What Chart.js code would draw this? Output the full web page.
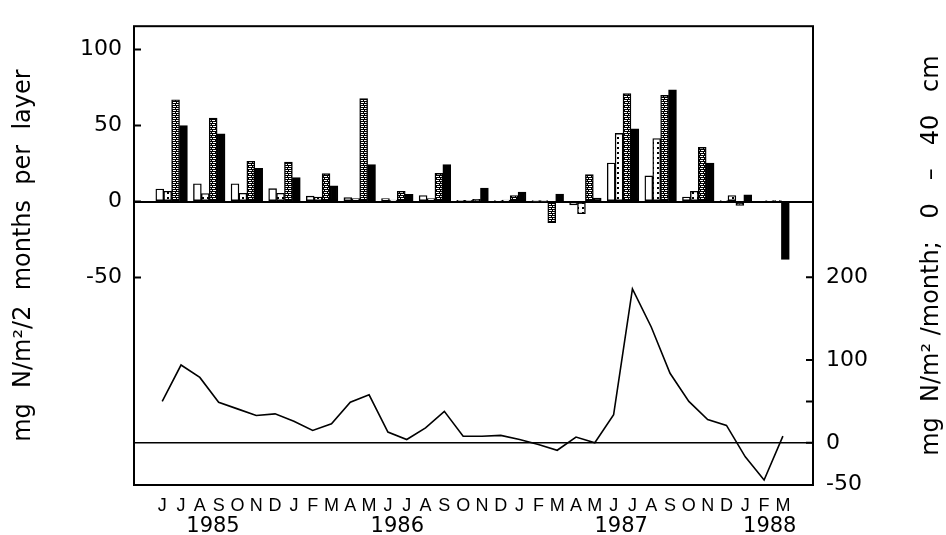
<!DOCTYPE html>
<html>
<head>
<meta charset="utf-8">
<script src="https://cdn.jsdelivr.net/npm/chart.js@4.4.0/dist/chart.umd.min.js"></script>
<style>
  html, body { margin: 0; padding: 0; background: #fff; }
  #wrap { width: 946px; height: 535px; }
</style>
</head>
<body>
<div id="wrap"><canvas id="chart" width="946" height="535"></canvas></div>
<script>
// month axis, June 1985 .. March 1988
const months = ['J','J','A','S','O','N','D','J','F','M','A','M','J','J','A','S','O','N','D',
                'J','F','M','A','M','J','J','A','S','O','N','D','J','F','M'];
const years = ['1985', '1986', '1987', '1988'];
const yearPos = [2.7, 12.5, 24.4, 32.3];   // month index under which each year sits

// two-month periods (bars)
const periods = ['Jun-Jul 85','Aug-Sep 85','Oct-Nov 85','Dec-Jan 86','Feb-Mar 86','Apr-May 86',
                 'Jun-Jul 86','Aug-Sep 86','Oct-Nov 86','Dec-Jan 87','Feb-Mar 87','Apr-May 87',
                 'Jun-Jul 87','Aug-Sep 87','Oct-Nov 87','Dec-Jan 88','Feb-Mar 88'];
const layerOpen   = [8.3, 11.7, 11.7, 8.5, 3.6, 2.6, 1.9, 4, 0.8, 0.6, 0.3, -2.2, 25.4, 16.9, 3, 0.6, 0];
const layerDotted = [6.8, 5.3, 5.5, 5.5, 3, 1.9, 1, 1.9, 0.8, 1, 0.3, -8, 44.9, 41.5, 6.8, 4, 0.6];
const layerHatch  = [67, 55, 26.5, 26, 18.4, 67.7, 6.8, 18.6, 1.5, 4, -13.8, 17.8, 71, 69.9, 35.7, -2.5, 0.6];
const layerBlack  = [50, 44.6, 21.8, 15.8, 10.3, 24.4, 4.7, 24.4, 8.8, 6.2, 5, 2.3, 47.9, 73.5, 25.4, 4.5, -38];

// monthly total, 0 - 40 cm (right axis)
const monthly = [50, 94, 79, 49, 41, 33, 35, 26, 15, 23, 49, 58, 13, 4, 18, 38, 8,
                 8, 9, 4, -2, -9, 7, 0, 34, 186, 140, 84, 50, 28, 21, -17, -45, 8];

const leftTicks = [-50, 0, 50, 100];
const rightTicks = [-50, 0, 100, 200];
const rightMarks = [0, 50, 100, 200];

function makePattern(kind) {
  const c = document.createElement('canvas');
  const g = c.getContext('2d');
  if (kind === 'dots') {
    c.width = 5; c.height = 5;
    g.fillStyle = '#fff'; g.fillRect(0, 0, 5, 5);
    g.fillStyle = '#000'; g.fillRect(2, 2, 2, 2);
  } else {
    c.width = 4; c.height = 4;
    g.fillStyle = '#000'; g.fillRect(0, 0, 4, 4);
    g.fillStyle = '#fff'; g.fillRect(0, 0, 3, 1); g.fillRect(1, 2, 3, 1);
  }
  return g.createPattern(c, 'repeat');
}

const FONT = "'DejaVu Sans', sans-serif";
const xMin = -1.5, xMax = 34.6;
const layerStep = 0.42;   // width of one layer bar, in months

const frameAndTicks = {
  id: 'frameAndTicks',
  afterDraw(chart) {
    const {ctx, chartArea: a, scales} = chart;
    ctx.save();
    ctx.strokeStyle = '#000';
    ctx.lineWidth = 2;
    ctx.strokeRect(a.left, a.top, a.right - a.left, a.bottom - a.top);
    ctx.beginPath();
    leftTicks.forEach(v => {
      const y = scales.yL.getPixelForValue(v);
      ctx.moveTo(a.left, y); ctx.lineTo(a.left + 7, y);
    });
    rightMarks.forEach(v => {
      const y = scales.yR.getPixelForValue(v);
      ctx.moveTo(a.right - 7, y); ctx.lineTo(a.right, y);
    });
    ctx.stroke();
    // right title reads bottom-to-top like the left one
    ctx.translate(scales.yR.right - 14, (a.top + a.bottom) / 2);
    ctx.rotate(-Math.PI / 2);
    ctx.font = "24px " + FONT;
    ctx.fillStyle = '#000';
    ctx.textAlign = 'center';
    ctx.textBaseline = 'middle';
    ctx.fillText('mg  N/m\u00B2 /month;   0   \u2013   40   cm', 0, 0);
    ctx.restore();
  }
};

// layer k of 4 sits side by side inside its two-month period
function barSet(label, values, fill, k) {
  return {
    type: 'bar',
    label: label,
    grouped: false,
    data: values.map((v, i) => ({x: 2 * i + 0.5 + (k - 1.5) * layerStep, y: v})),
    xAxisID: 'xb',
    yAxisID: 'yL',
    backgroundColor: fill,
    borderColor: '#000',
    borderWidth: 1.4,
    borderSkipped: false,
    categoryPercentage: 1.0,
    barPercentage: 1.0,
    order: 1
  };
}

const zeroOnly = (col) => (ctx) => (ctx.tick && ctx.tick.value === 0) ? col : 'rgba(0,0,0,0)';

new Chart(document.getElementById('chart'), {
  type: 'bar',
  data: {
    datasets: [
      barSet('layer 1', layerOpen, '#fff', 0),
      barSet('layer 2', layerDotted, makePattern('dots'), 1),
      barSet('layer 3', layerHatch, makePattern('hatch'), 2),
      barSet('layer 4', layerBlack, '#000', 3),
      {
        type: 'line',
        label: '0 - 40 cm',
        data: monthly.map((v, i) => ({x: i, y: v})),
        xAxisID: 'x',
        yAxisID: 'yR',
        borderColor: '#000',
        borderWidth: 1.6,
        pointRadius: 0,
        tension: 0,
        order: 0
      }
    ]
  },
  options: {
    responsive: false,
    animation: false,
    devicePixelRatio: 1,
    layout: { padding: { top: 14, left: 0, right: 0, bottom: 0 } },
    plugins: { legend: { display: false }, tooltip: { enabled: false } },
    scales: {
      x: {
        type: 'linear', position: 'bottom', min: xMin, max: xMax, weight: 0, offset: false,
        afterBuildTicks: s => { s.ticks = months.map((m, i) => ({value: i})); },
        afterFit: s => { s.height = 28; },
        ticks: {
          callback: (v) => months[v] || '',
          autoSkip: false, maxRotation: 0, padding: 10,
          color: '#000', font: { family: "'Liberation Sans', sans-serif", size: 18 }
        },
        grid: { display: false, drawTicks: false, offset: false },
        border: { display: false }
      },
      xYear: {
        type: 'linear', position: 'bottom', min: xMin, max: xMax, weight: 1, offset: false,
        afterBuildTicks: s => { s.ticks = yearPos.map(v => ({value: v})); },
        afterFit: s => { s.height = 22; },
        ticks: {
          callback: (v, i) => years[i],
          autoSkip: false, maxRotation: 0, padding: 1,
          color: '#000', font: { family: FONT, size: 21 }
        },
        grid: { display: false, drawTicks: false, offset: false },
        border: { display: false }
      },
      xb: {
        type: 'linear', display: false, min: xMin, max: xMax, offset: false,
        grid: { offset: false },
        afterBuildTicks: s => { s.ticks = periods.map((p, i) => ({value: 2 * i + 0.5})); }
      },
      yL: {
        type: 'linear', position: 'left', min: -186.5, max: 115.4,
        afterBuildTicks: s => { s.ticks = leftTicks.map(v => ({value: v})); },
        afterFit: s => { s.width = 134; },
        ticks: { color: '#000', padding: 12, font: { family: FONT, size: 22 } },
        grid: { drawTicks: false, color: zeroOnly('#000'), lineWidth: 2 },
        border: { display: false },
        title: {
          display: true, text: 'mg  N/m\u00B2/2  months  per  layer', color: '#000',
          font: { family: FONT, size: 24 }, padding: { top: 9, bottom: 0 }
        }
      },
      yR: {
        type: 'linear', position: 'right', min: -51, max: 503.5,
        afterBuildTicks: s => { s.ticks = rightTicks.map(v => ({value: v})); },
        afterFit: s => { s.width = 133; },
        ticks: { color: '#000', padding: 13, font: { family: FONT, size: 22 } },
        grid: { drawTicks: false, color: zeroOnly('#000'), lineWidth: 1.6 },
        border: { display: false }
      }
    }
  },
  plugins: [frameAndTicks]
});
</script>
</body>
</html>
